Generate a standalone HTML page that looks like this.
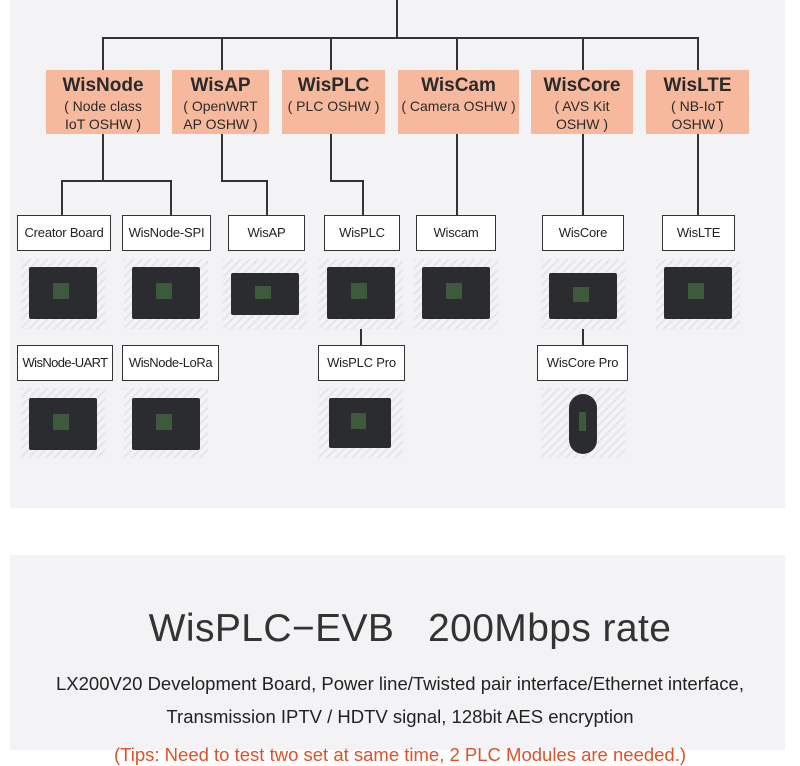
<!DOCTYPE html>
<html><head><meta charset="utf-8"><style>
*{margin:0;padding:0;box-sizing:border-box}
body{width:800px;height:750px;background:#fff;position:relative;overflow:hidden;font-family:"Liberation Sans",sans-serif}
.p{position:absolute;background:#f3f3f5}
.l{position:absolute;background:#333}
.o{position:absolute;background:#f7b99d;text-align:center;color:#2a2a2a;top:70px;height:64px}
.o b{display:block;font-size:19px;margin-top:5px;line-height:22px}
.o span{display:block;font-size:14px;line-height:18px}
.c{position:absolute;height:36px;border:1.5px solid #333;background:#fff;font-size:13px;color:#222;text-align:center;line-height:33px;white-space:nowrap;letter-spacing:-0.2px}
.h{position:absolute;width:84px;height:70px;background:repeating-linear-gradient(135deg,#e6e6e8 0 2px,#f3f3f5 2px 6px)}
.h i{position:absolute;left:8px;top:8px;right:8px;bottom:10px;background:#2a2c30;border-radius:2px}
.h i:after{content:"";position:absolute;left:35%;top:30%;width:24%;height:32%;background:#3d5a3c}
</style></head><body>
<div class="p" style="left:10px;top:0;width:775px;height:508px"></div>
<div class="p" style="left:10px;top:555px;width:775px;height:195px"></div>

<div class="l" style="left:396px;top:0;width:2px;height:39px"></div>
<div class="l" style="left:102px;top:37px;width:597px;height:2px"></div>
<div class="l" style="left:102px;top:37px;width:2px;height:33px"></div>
<div class="l" style="left:221px;top:37px;width:2px;height:33px"></div>
<div class="l" style="left:330px;top:37px;width:2px;height:33px"></div>
<div class="l" style="left:456px;top:37px;width:2px;height:33px"></div>
<div class="l" style="left:582px;top:37px;width:2px;height:33px"></div>
<div class="l" style="left:697px;top:37px;width:2px;height:33px"></div>

<div class="o" style="left:46px;width:114px"><b>WisNode</b><span>( Node class<br>IoT OSHW )</span></div>
<div class="o" style="left:172px;width:97px"><b>WisAP</b><span>( OpenWRT<br>AP OSHW )</span></div>
<div class="o" style="left:282px;width:103px"><b>WisPLC</b><span>( PLC OSHW )</span></div>
<div class="o" style="left:398px;width:121px"><b>WisCam</b><span>( Camera OSHW )</span></div>
<div class="o" style="left:531px;width:102px"><b>WisCore</b><span>( AVS Kit<br>OSHW )</span></div>
<div class="o" style="left:646px;width:103px"><b>WisLTE</b><span>( NB-IoT<br>OSHW )</span></div>

<div class="l" style="left:102px;top:134px;width:2px;height:47px"></div>
<div class="l" style="left:61px;top:180px;width:111px;height:2px"></div>
<div class="l" style="left:61px;top:180px;width:2px;height:35px"></div>
<div class="l" style="left:170px;top:180px;width:2px;height:35px"></div>
<div class="l" style="left:221px;top:134px;width:2px;height:47px"></div>
<div class="l" style="left:221px;top:180px;width:47px;height:2px"></div>
<div class="l" style="left:266px;top:180px;width:2px;height:35px"></div>
<div class="l" style="left:330px;top:134px;width:2px;height:47px"></div>
<div class="l" style="left:330px;top:180px;width:34px;height:2px"></div>
<div class="l" style="left:362px;top:180px;width:2px;height:35px"></div>
<div class="l" style="left:456px;top:134px;width:2px;height:81px"></div>
<div class="l" style="left:582px;top:134px;width:2px;height:81px"></div>
<div class="l" style="left:697px;top:134px;width:2px;height:81px"></div>
<div class="l" style="left:582px;top:327px;width:2px;height:18px"></div>
<div class="l" style="left:360px;top:327px;width:2px;height:18px"></div>

<div class="c" style="left:17px;top:215px;width:94px">Creator Board</div>
<div class="c" style="left:122px;top:215px;width:89px">WisNode-SPI</div>
<div class="c" style="left:228px;top:215px;width:77px">WisAP</div>
<div class="c" style="left:324px;top:215px;width:76px">WisPLC</div>
<div class="c" style="left:416px;top:215px;width:80px">Wiscam</div>
<div class="c" style="left:542px;top:215px;width:82px">WisCore</div>
<div class="c" style="left:662px;top:215px;width:73px">WisLTE</div>

<div class="c" style="left:17px;top:345px;width:96px;letter-spacing:-0.6px">WisNode-UART</div>
<div class="c" style="left:122px;top:345px;width:97px;letter-spacing:-0.4px">WisNode-LoRa</div>
<div class="c" style="left:318px;top:345px;width:87px">WisPLC Pro</div>
<div class="c" style="left:537px;top:345px;width:91px">WisCore Pro</div>

<div class="h" style="left:21px;top:259px"><i></i></div>
<div class="h" style="left:124px;top:259px"><i></i></div>
<div class="h" style="left:223px;top:259px"><i style="top:14px;bottom:14px"></i></div>
<div class="h" style="left:319px;top:259px"><i></i></div>
<div class="h" style="left:414px;top:259px"><i></i></div>
<div class="h" style="left:541px;top:259px"><i style="top:14px;bottom:10px"></i></div>
<div class="h" style="left:656px;top:259px"><i></i></div>
<div class="h" style="left:21px;top:388px"><i style="top:10px;bottom:8px"></i></div>
<div class="h" style="left:124px;top:388px"><i style="top:10px;bottom:8px"></i></div>
<div class="h" style="left:319px;top:388px"><i style="top:10px;bottom:10px;left:10px;right:12px"></i></div>
<div class="h" style="left:541px;top:388px"><i style="left:28px;right:28px;top:6px;bottom:4px;border-radius:20px"></i></div>

<div style="position:absolute;left:10px;width:800px;top:607px;text-align:center;font-size:39px;color:#333;letter-spacing:0.4px;white-space:nowrap">WisPLC−EVB&nbsp;&nbsp; 200Mbps rate</div>
<div style="position:absolute;left:0;width:800px;top:673px;text-align:center;font-size:18.5px;color:#222;white-space:nowrap">LX200V20 Development Board, Power line/Twisted pair interface/Ethernet interface,</div>
<div style="position:absolute;left:0;width:800px;top:706px;text-align:center;font-size:18.5px;color:#222;white-space:nowrap">Transmission IPTV / HDTV signal, 128bit AES encryption</div>
<div style="position:absolute;left:0;width:800px;top:744px;text-align:center;font-size:18.5px;color:#e0502a;white-space:nowrap">(Tips: Need to test two set at same time, 2 PLC Modules are needed.)</div>
</body></html>
